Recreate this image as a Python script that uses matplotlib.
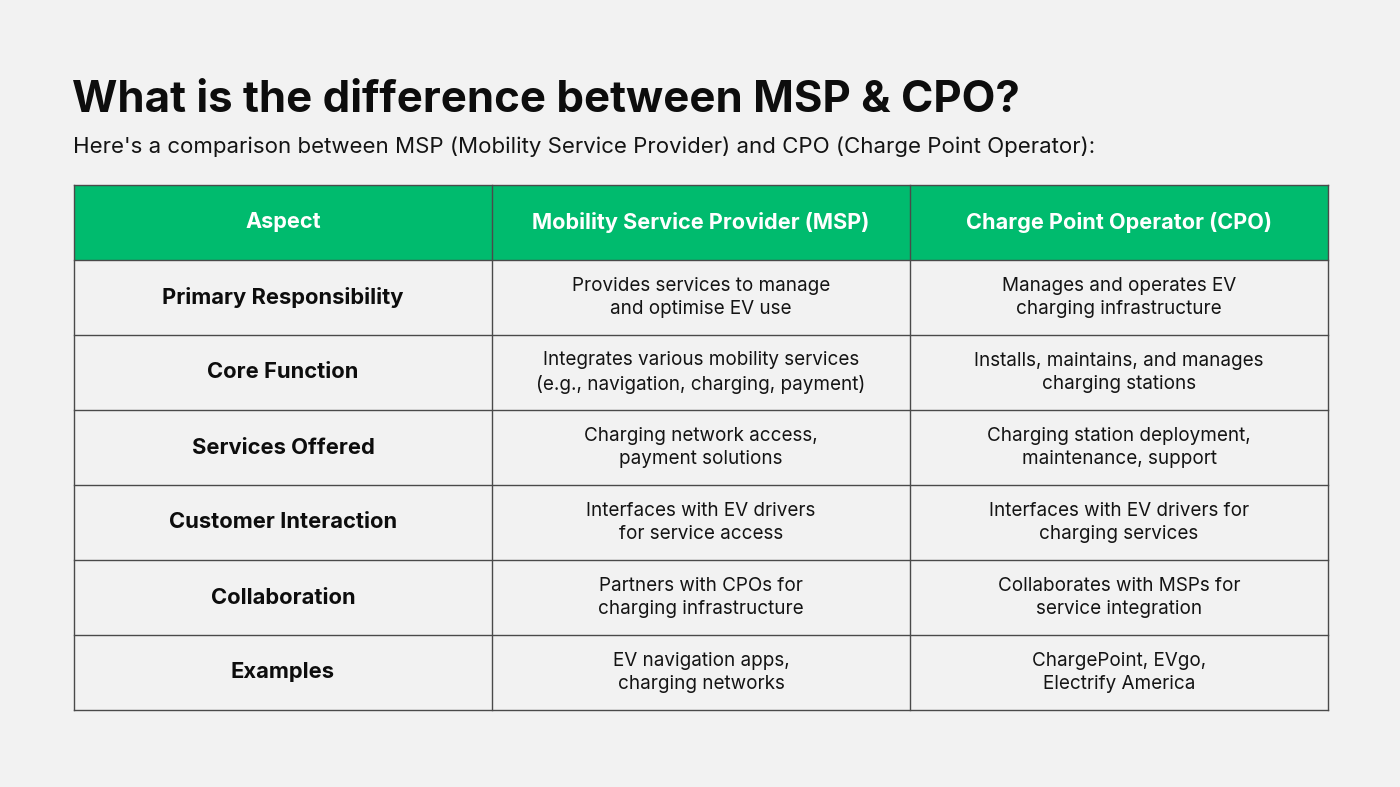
import matplotlib.pyplot as plt
from matplotlib.patches import Rectangle

# =================================
# DATA
# =================================

title = "What is the difference between MSP & CPO?"
subtitle = "Here's a comparison between MSP (Mobility Service Provider) and CPO (Charge Point Operator):"

headers = ["Aspect", "Mobility Service Provider (MSP)", "Charge Point Operator (CPO)"]

aspects = [
    "Primary Responsibility",
    "Core Function",
    "Services Offered",
    "Customer Interaction",
    "Collaboration",
    "Examples",
]

msp = [
    "Provides services to manage\nand optimise EV use",
    "Integrates various mobility services\n(e.g., navigation, charging, payment)",
    "Charging network access,\npayment solutions",
    "Interfaces with EV drivers\nfor service access",
    "Partners with CPOs for\ncharging infrastructure",
    "EV navigation apps,\ncharging networks",
]

cpo = [
    "Manages and operates EV\ncharging infrastructure",
    "Installs, maintains, and manages\ncharging stations",
    "Charging station deployment,\nmaintenance, support",
    "Interfaces with EV drivers for\ncharging services",
    "Collaborates with MSPs for\nservice integration",
    "ChargePoint, EVgo,\nElectrify America",
]

# =================================
# STYLE
# =================================

bg = "#f2f2f2"
green = "#00bb6e"
edge = "#4a4a4a"
font = ["Inter", "DejaVu Sans"]

fig = plt.figure(figsize=(14, 7.87), dpi=100, facecolor=bg)
ax = fig.add_axes([0, 0, 1, 1])
ax.set_xlim(0, 1400)
ax.set_ylim(787, 0)
ax.axis("off")

ax.text(72, 101, title, fontsize=31.5, fontweight="bold", family=font,
        color="#0d0d0d", va="center", ha="left")
ax.text(73, 147, subtitle, fontsize=16, family=font,
        color="#141414", va="center", ha="left")

# table geometry
left, right = 74, 1328
top, header_h, row_h = 185, 75, 75
col_w = (right - left) / 3

ax.add_patch(Rectangle((left, top), right - left, header_h,
                       facecolor=green, edgecolor="none"))

for i, h in enumerate(headers):
    ax.text(left + col_w * (i + 0.5), top + header_h / 2, h, fontsize=15.6,
            fontweight="bold", family=font, color="white",
            ha="center", va="center")

for r in range(len(aspects)):
    yc = top + header_h + row_h * (r + 0.5)
    ax.text(left + col_w * 0.5, yc, aspects[r], fontsize=15.8,
            fontweight="bold", family=font, color="#0d0d0d",
            ha="center", va="center")
    for c, col in enumerate([msp, cpo]):
        ax.text(left + col_w * (c + 1.5), yc, col[r], fontsize=13.6,
                family=font, color="#141414", ha="center", va="center",
                linespacing=1.4)

bottom = top + header_h + row_h * len(aspects)
for k in range(len(aspects) + 2):
    y = top + (header_h + row_h * (k - 1) if k > 0 else 0)
    ax.plot([left, right], [y, y], color=edge, lw=1)
for k in range(4):
    x = left + col_w * k
    ax.plot([x, x], [top, bottom], color=edge, lw=1)

fig.savefig("out.png", dpi=100, facecolor=bg)
